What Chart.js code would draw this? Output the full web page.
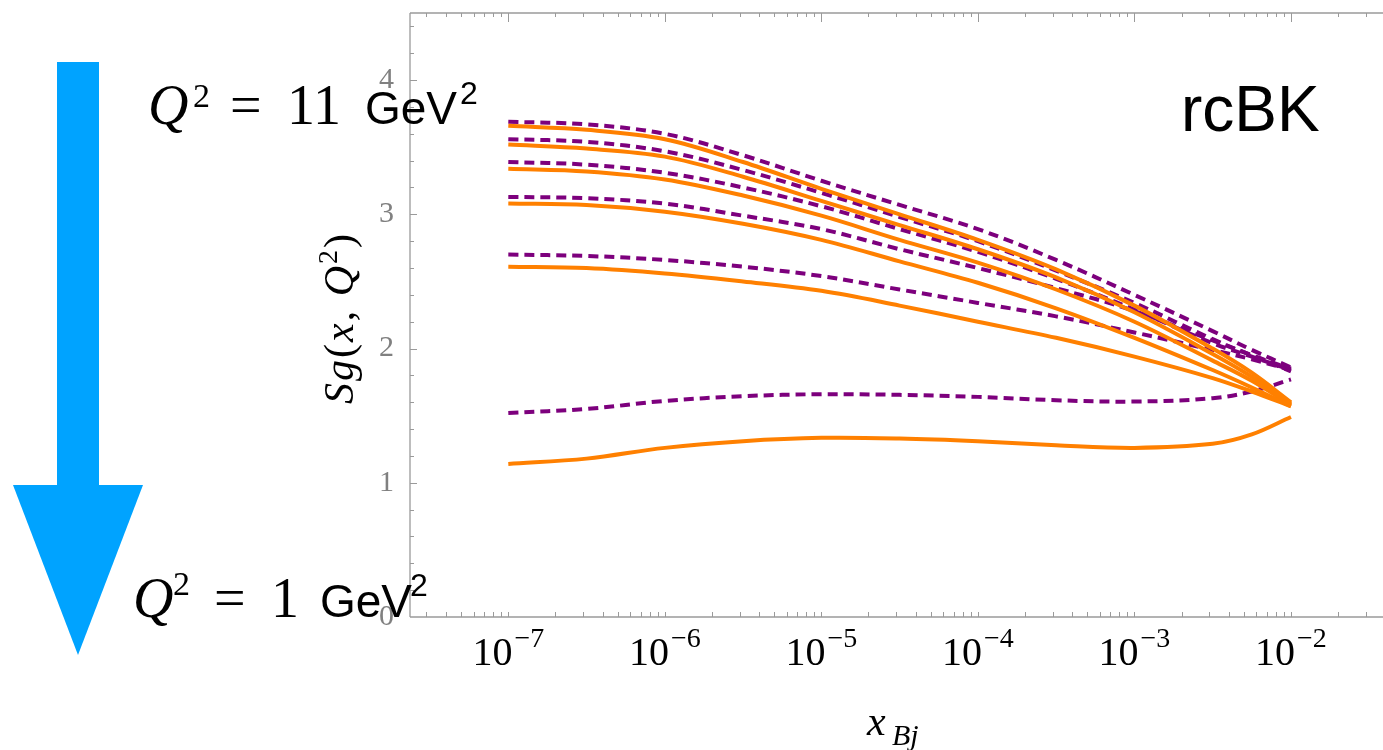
<!DOCTYPE html>
<html><head><meta charset="utf-8">
<script src="https://cdn.jsdelivr.net/npm/chart.js@4.4.1/dist/chart.umd.min.js"></script>
<style>html,body{margin:0;padding:0;background:#fff;overflow:hidden}#wrap{width:1383px;height:750px;position:relative}</style>
</head><body><div id="wrap"><canvas id="c" width="1383" height="750"></canvas></div>
<script>
// x values (x_Bj)
const xValues = [1e-7, 3.16e-7, 1e-6, 3.16e-6, 1e-5, 3.16e-5, 1e-4, 3.16e-4, 1e-3, 3.16e-3, 5.62e-3, 1e-2];
// solid orange curves, top to bottom
const solid1 = [3.66, 3.63, 3.56, 3.39, 3.19, 3.00, 2.81, 2.59, 2.32, 2.00, 1.82, 1.60];
const solid2 = [3.52, 3.49, 3.43, 3.28, 3.10, 2.92, 2.74, 2.53, 2.27, 1.96, 1.79, 1.59];
const solid3 = [3.34, 3.32, 3.26, 3.14, 2.99, 2.81, 2.64, 2.44, 2.20, 1.91, 1.76, 1.58];
const solid4 = [3.08, 3.07, 3.02, 2.93, 2.81, 2.65, 2.49, 2.30, 2.08, 1.84, 1.71, 1.57];
const solid5 = [2.61, 2.60, 2.56, 2.50, 2.43, 2.32, 2.20, 2.08, 1.94, 1.78, 1.68, 1.57];
const solid6 = [1.14, 1.18, 1.26, 1.31, 1.335, 1.33, 1.31, 1.28, 1.26, 1.29, 1.36, 1.49];
// dashed purple curves, top to bottom
const dashed1 = [3.69, 3.67, 3.60, 3.44, 3.25, 3.07, 2.89, 2.66, 2.40, 2.13, 1.99, 1.86];
const dashed2 = [3.56, 3.54, 3.47, 3.33, 3.16, 2.98, 2.80, 2.58, 2.34, 2.07, 1.95, 1.85];
const dashed3 = [3.39, 3.37, 3.31, 3.20, 3.06, 2.89, 2.72, 2.52, 2.29, 2.04, 1.94, 1.84];
const dashed4 = [3.13, 3.12, 3.08, 2.99, 2.89, 2.74, 2.60, 2.45, 2.28, 2.06, 1.95, 1.83];
const dashed5 = [2.70, 2.69, 2.66, 2.61, 2.54, 2.44, 2.34, 2.24, 2.12, 1.99, 1.92, 1.84];
const dashed6 = [1.52, 1.55, 1.61, 1.645, 1.66, 1.655, 1.64, 1.615, 1.605, 1.63, 1.68, 1.77];
// tick labels
const xTickExponents = [-7, -6, -5, -4, -3, -2];
const yTickLabels = [0, 1, 2, 3, 4];
const modelLabel = 'rcBK';
const topLabelQ2 = '11';
const bottomLabelQ2 = '1';

const solidSet = [solid1, solid2, solid3, solid4, solid5, solid6];
const dashedSet = [dashed1, dashed2, dashed3, dashed4, dashed5, dashed6];
const ORANGE = '#ff8000', PURPLE = '#7d007d', AXIS = '#9a9a9a';
const SERIF = '"Liberation Serif", "DejaVu Serif", serif';
const SANS = '"Liberation Sans", Arial, sans-serif';

const datasets = [];
solidSet.forEach((d, i) => datasets.push({
  label: 'solid ' + (i + 1), data: xValues.map((x, j) => ({x, y: d[j]})),
  borderColor: ORANGE, borderWidth: 4, pointRadius: 0, fill: false, tension: 0.35
}));
dashedSet.forEach((d, i) => datasets.push({
  label: 'dashed ' + (i + 1), data: xValues.map((x, j) => ({x, y: d[j]})),
  borderColor: PURPLE, borderWidth: 4, borderDash: [10, 6], pointRadius: 0, fill: false, tension: 0.35
}));

function drawPieces(ctx, pieces) {
  pieces.forEach(p => { ctx.font = p.f; ctx.fillText(p.t, p.x, p.y); });
}

const decor = {
  id: 'decor',
  beforeDraw(chart) {
    const ctx = chart.ctx;
    ctx.save();
    ctx.fillStyle = '#00a3ff';
    ctx.fillRect(57, 62, 42, 424);
    ctx.beginPath();
    ctx.moveTo(13, 485); ctx.lineTo(143, 485); ctx.lineTo(78, 655); ctx.closePath(); ctx.fill();
    ctx.restore();
  },
  afterDraw(chart) {
    const ctx = chart.ctx, a = chart.chartArea, xs = chart.scales.x, ys = chart.scales.y;
    ctx.save();
    ctx.strokeStyle = AXIS; ctx.lineWidth = 1.3;
    ctx.beginPath();
    ctx.moveTo(a.left, a.top); ctx.lineTo(a.right, a.top);
    ctx.moveTo(a.left, a.top); ctx.lineTo(a.left, a.bottom);
    ctx.moveTo(a.left, a.bottom); ctx.lineTo(a.right, a.bottom);
    ctx.stroke();
    ctx.lineWidth = 1;
    ctx.beginPath();
    for (let n = -8; n <= -1; n++) {
      for (let k = 1; k <= 9; k++) {
        const v = k * Math.pow(10, n);
        const px = Math.round(xs.getPixelForValue(v)) + 0.5;
        if (px < a.left + 2 || px > a.right) continue;
        const major = k === 1;
        ctx.moveTo(px, a.bottom); ctx.lineTo(px, a.bottom - 5);
        ctx.moveTo(px, a.top); ctx.lineTo(px, a.top + (major ? 9 : 4));
      }
    }
    for (let i = 0; i <= 22; i++) {
      const v = i * 0.2;
      const py = Math.round(ys.getPixelForValue(v)) + 0.5;
      if (py > a.bottom - 1) continue;
      const major = i % 5 === 0;
      ctx.moveTo(a.left, py); ctx.lineTo(a.left + (major ? 7 : 4), py);
    }
    ctx.stroke();

    ctx.fillStyle = '#000';
    ctx.textBaseline = 'alphabetic';
    ctx.textAlign = 'left';
    xTickExponents.forEach(e => {
      const px = xs.getPixelForValue(Math.pow(10, e));
      ctx.font = '40px ' + SERIF;
      const w1 = ctx.measureText('10').width;
      ctx.font = '28px ' + SERIF;
      const sup = '\u2212' + Math.abs(e);
      const w2 = ctx.measureText(sup).width;
      const x0 = px - (w1 + 2 + w2) / 2;
      ctx.font = '40px ' + SERIF; ctx.fillText('10', x0, 665);
      ctx.font = '28px ' + SERIF; ctx.fillText(sup, x0 + w1 + 2, 647);
    });
    ctx.font = 'italic 42px ' + SERIF; ctx.fillText('x', 867, 735);
    ctx.font = 'italic 30px ' + SERIF; ctx.fillText('Bj', 892, 745);
    ctx.save();
    ctx.translate(353, 318); ctx.rotate(-Math.PI / 2);
    const yp = [
      {t: 'Sg', f: 'italic 42px ' + SERIF}, {t: '(', f: '42px ' + SERIF}, {t: 'x', f: 'italic 42px ' + SERIF},
      {t: ', ', f: '42px ' + SERIF}, {t: 'Q', f: 'italic 42px ' + SERIF}, {t: '2', f: '28px ' + SERIF, dy: -16},
      {t: ')', f: '42px ' + SERIF}
    ];
    ctx.letterSpacing = '2px';
    let tw = 0; yp.forEach(p => { ctx.font = p.f; p.w = ctx.measureText(p.t).width; tw += p.w; });
    let cx = -tw / 2;
    yp.forEach(p => { ctx.font = p.f; ctx.fillText(p.t, cx, p.dy || 0); cx += p.w; });
    ctx.restore();
    ctx.letterSpacing = '0px';
    ctx.font = '64px ' + SANS; ctx.fillText(modelLabel, 1181, 131);
    drawPieces(ctx, [
      {t: 'Q', f: 'italic 56px ' + SERIF, x: 148, y: 124},
      {t: '2', f: '34px ' + SERIF, x: 193, y: 107},
      {t: '=', f: '56px ' + SERIF, x: 230, y: 124},
      {t: topLabelQ2, f: '56px ' + SERIF, x: 287, y: 124},
      {t: 'GeV', f: '46px ' + SANS, x: 365, y: 124},
      {t: '2', f: '32px ' + SANS, x: 460, y: 104}
    ]);
    drawPieces(ctx, [
      {t: 'Q', f: 'italic 56px ' + SERIF, x: 133, y: 617},
      {t: '2', f: '34px ' + SERIF, x: 173, y: 595},
      {t: '=', f: '56px ' + SERIF, x: 214, y: 617},
      {t: bottomLabelQ2, f: '56px ' + SERIF, x: 271, y: 617},
      {t: 'GeV', f: '46px ' + SANS, x: 320, y: 617},
      {t: '2', f: '32px ' + SANS, x: 410, y: 596}
    ]);
    ctx.restore();
  }
};

new Chart(document.getElementById('c'), {
  type: 'line',
  data: {datasets},
  options: {
    responsive: false, animation: false, events: [],
    layout: {padding: {left: 0, right: 0, top: 13, bottom: 0}},
    plugins: {legend: {display: false}, tooltip: {enabled: false}, title: {display: false}},
    scales: {
      x: {
        type: 'logarithmic', min: Math.pow(10, -7.628), max: Math.pow(10, -1.412),
        grid: {display: false}, border: {display: false},
        ticks: {display: false},
        afterFit(s) { s.height = 133; s.paddingLeft = 0; s.paddingRight = 0; }
      },
      y: {
        type: 'linear', min: 0, max: 4.5,
        grid: {display: false}, border: {display: false},
        ticks: {stepSize: 1, padding: 8, color: '#808080', font: {family: SERIF, size: 30},
          callback: v => yTickLabels.includes(v) ? String(v) : ''},
        afterFit(s) { s.width = 410; s.paddingTop = 0; s.paddingBottom = 0; }
      }
    }
  },
  plugins: [decor]
});
</script></body></html>
